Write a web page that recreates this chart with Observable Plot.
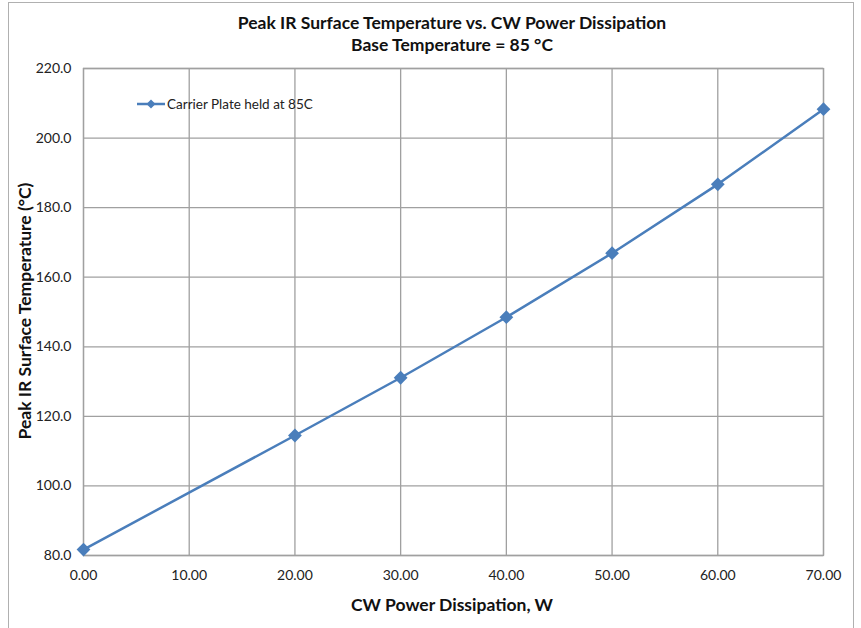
<!DOCTYPE html>
<html>
<head>
<meta charset="utf-8">
<script src="https://cdn.jsdelivr.net/npm/d3@7"></script>
<script src="https://cdn.jsdelivr.net/npm/@observablehq/plot@0.6"></script>
<style>
  html, body { margin: 0; padding: 0; background: #fff; }
  #wrap { position: relative; width: 861px; height: 628px; overflow: hidden; font-family: Lato, "Open Sans", sans-serif; }
  #border { position: absolute; left: 8px; top: 2px; width: 846px; height: 640px; border: 1px solid #b0b0b0; box-sizing: border-box; pointer-events: none; }
  #title { position: absolute; left: 0; top: 12px; width: 904px; text-align: center; font-weight: bold; font-size: 17.5px; line-height: 22px; color: #111; }
  #chart { position: absolute; left: 0; top: 60px; }
  #legend { position: absolute; left: 137px; top: 96px; font-size: 13.5px; color: #222; display: flex; align-items: center; }
  #ylab { position: absolute; left: 24px; top: 311px; transform: translate(-50%, -50%) rotate(-90deg); white-space: nowrap; font-weight: bold; font-size: 17.5px; color: #111; }
  #xlab { position: absolute; left: 452px; top: 594px; transform: translateX(-50%); white-space: nowrap; font-weight: bold; font-size: 17.5px; color: #111; }
</style>
</head>
<body>
<div id="wrap">
  <div id="border"></div>
  <div id="title">Peak IR Surface Temperature vs. CW Power Dissipation<br>Base Temperature = 85 °C</div>
  <div id="chart"></div>
  <div id="legend"><svg width="28" height="12"><line x1="0" y1="6" x2="28" y2="6" stroke="#4a7ebb" stroke-width="2.5"/><path d="M9.5,6 L14,1.5 L18.5,6 L14,10.5 Z" fill="#4a7ebb"/></svg><span style="margin-left:2px">Carrier Plate held at 85C</span></div>
  <div id="ylab">Peak IR Surface Temperature (°C)</div>
  <div id="xlab">CW Power Dissipation, W</div>
</div>
<script>
const power = [0, 20, 30, 40, 50, 60, 70];
const temperature = [81.7, 114.5, 131.1, 148.5, 166.9, 186.7, 208.3];
const xTicks = [0, 10, 20, 30, 40, 50, 60, 70];
const yTicks = [80, 100, 120, 140, 160, 180, 200, 220];
const seriesName = "Carrier Plate held at 85C";

const data = power.map((p, i) => ({power: p, temp: temperature[i], series: seriesName}));

const chart = Plot.plot({
  width: 861,
  height: 568,
  marginTop: 8,
  marginBottom: 73,
  marginLeft: 83,
  marginRight: 38,
  style: { fontFamily: "Lato, 'Open Sans', sans-serif", fontSize: "14px", color: "#222", background: "transparent" },
  x: { domain: [0, 70], ticks: xTicks, tickFormat: d => d.toFixed(2), label: null, tickSize: 0, tickPadding: 15 },
  y: { domain: [80, 220], ticks: yTicks, tickFormat: d => d.toFixed(1), label: null, tickSize: 0, tickPadding: 12 },
  marks: [
    Plot.gridX(xTicks, { stroke: "#a0a0a0", strokeOpacity: 1, strokeWidth: 1.3 }),
    Plot.gridY(yTicks, { stroke: "#a0a0a0", strokeOpacity: 1, strokeWidth: 1.3 }),
    Plot.frame({ stroke: "#a0a0a0", strokeWidth: 1.3 }),
    Plot.line(data, { x: "power", y: "temp", stroke: "#4a7ebb", strokeWidth: 2.5 }),
    Plot.dot(data, { x: "power", y: "temp", symbol: "square", rotate: 45, r: 5.5, fill: "#4a7ebb", stroke: "none" })
  ]
});
document.getElementById("chart").appendChild(chart);
</script>
</body>
</html>
